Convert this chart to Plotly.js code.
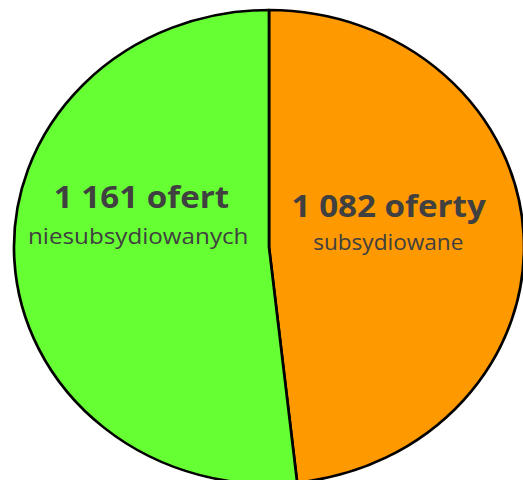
<!DOCTYPE html>
<html>
<head>
<meta charset="utf-8">
<script src="https://cdn.plot.ly/plotly-3.0.1.min.js"></script>
<style>
  html, body { margin: 0; padding: 0; overflow: hidden; background: #fff; width: 523px; height: 480px; }
  #chart { width: 487px; height: 484px; transform: scaleX(1.076); transform-origin: 0 0; }
</style>
</head>
<body>
<div id="chart"></div>
<script>
// slices, in drawing order (first one lies clockwise of 12 o'clock)
const categories = ["subsydiowane", "niesubsydiowane"];
const values = [1082, 1161];
const countWords = ["oferty", "ofert"];
const subLabels = ["subsydiowane", "niesubsydiowanych"];
const colors = ["#FF9900", "#66FF33"];

function fmt(n) {
  return String(n).replace(/\B(?=(\d{3})+(?!\d))/g, " ");
}

// layout geometry (pixels, before the horizontal stretch)
const SX = 1.076;
const W = 487, H = 484, L = 13, T = 10, P = 474;
function px(x) { return (x / SX - L) / P; }
function py(y) { return 1 - (y - T) / P; }

const labelStyle = [
  { x1: 389, y1: 205, s1: 30.8, x2: 388.7, y2: 242, s2: 21 },
  { x1: 141, y1: 196, s1: 30.8, x2: 137.8, y2: 236, s2: 22.5 }
];

const annotations = [];
values.forEach((v, i) => {
  const st = labelStyle[i];
  annotations.push({
    xref: "paper", yref: "paper",
    x: px(st.x1), y: py(st.y1),
    xanchor: "center", yanchor: "middle",
    text: "<b>" + fmt(v) + " " + countWords[i] + "</b>",
    showarrow: false,
    font: { family: "Open Sans, sans-serif", size: st.s1, color: "#404040" }
  });
  annotations.push({
    xref: "paper", yref: "paper",
    x: px(st.x2), y: py(st.y2),
    xanchor: "center", yanchor: "middle",
    text: subLabels[i],
    showarrow: false,
    font: { family: "Open Sans, sans-serif", size: st.s2, color: "#404040" }
  });
});

const data = [{
  type: "pie",
  labels: categories,
  values: values,
  sort: false,
  direction: "counterclockwise",
  rotation: 0,
  textinfo: "none",
  hoverinfo: "skip",
  marker: { colors: colors, line: { color: "#000000", width: 2.5 } },
  showlegend: false
}];

const layout = {
  width: W, height: H,
  margin: { l: L, r: W - L - P, t: T, b: H - T - P, pad: 0 },
  paper_bgcolor: "#ffffff",
  plot_bgcolor: "#ffffff",
  showlegend: false,
  annotations: annotations
};

Plotly.newPlot("chart", data, layout, { displayModeBar: false, staticPlot: true });
</script>
</body>
</html>
